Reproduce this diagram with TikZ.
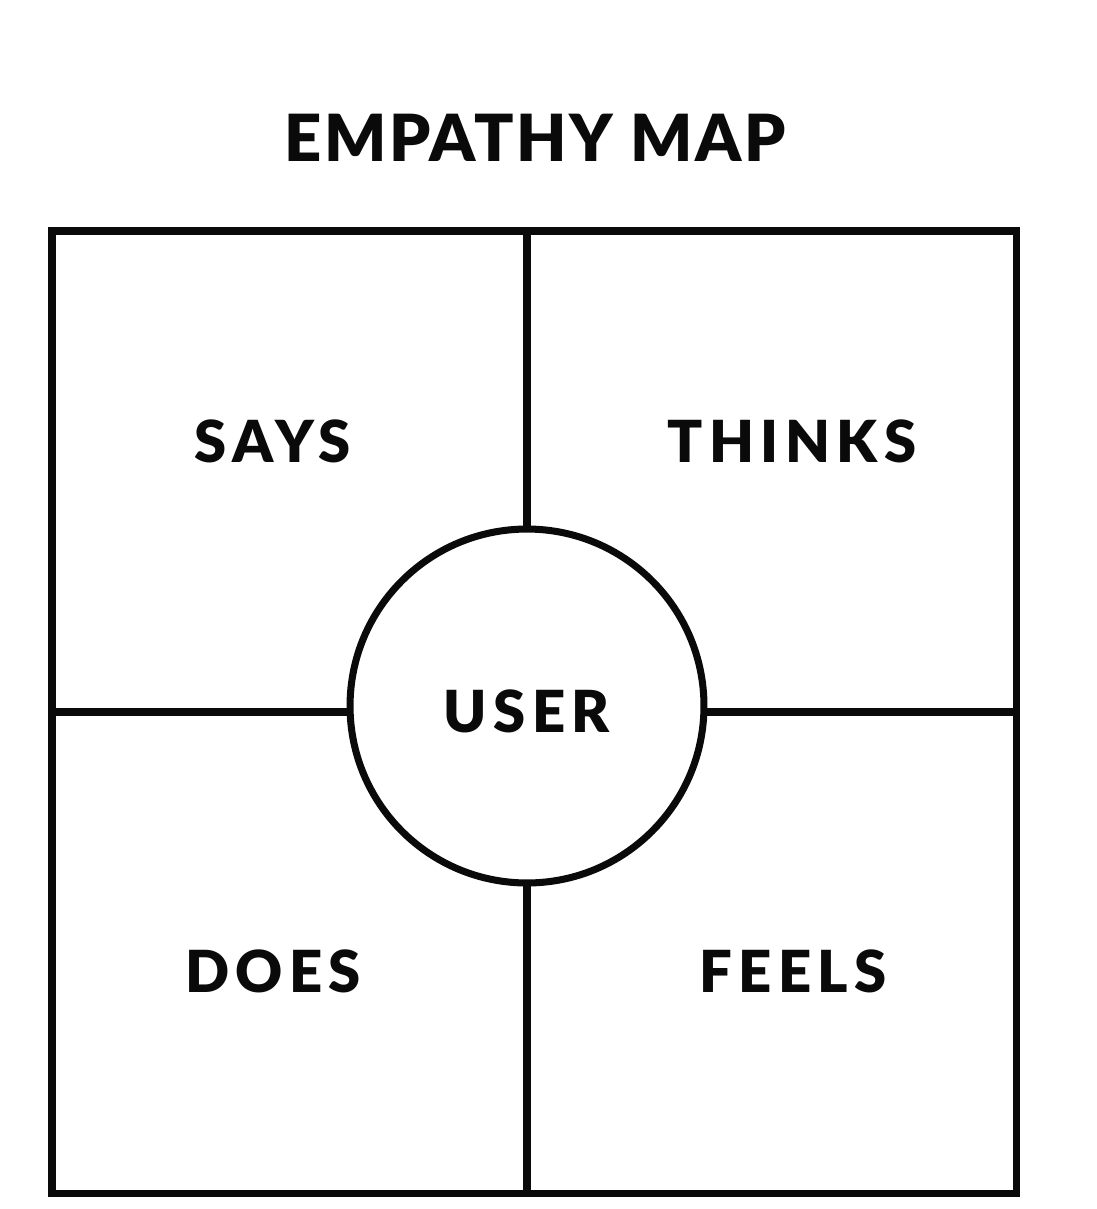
\documentclass[tikz,border=0pt]{standalone}
\usepackage{fontspec}
\usepackage{tikz}
\usetikzlibrary{positioning}
\setsansfont{Lato}
\newfontfamily\mapfont[LetterSpace=11]{Lato Black}
\newfontfamily\headfont[LetterSpace=4]{Lato Black}
\definecolor{mapink}{RGB}{10,10,10}
\tikzset{
  frame/.style={line width=4pt, color=mapink},
  titletext/.style={font=\headfont\fontsize{37pt}{40pt}\selectfont, text=mapink, inner sep=0pt},
  quadtext/.style={font=\mapfont\fontsize{33pt}{36pt}\selectfont, text=mapink, inner sep=0pt},
  usercircle/.style={circle, draw=mapink, line width=4pt, fill=white, minimum size=7.08cm, inner sep=0pt,
    font=\mapfont\fontsize{33pt}{36pt}\selectfont, text=mapink}
}
\begin{document}
\begin{tikzpicture}[x=0.02cm, y=-0.02cm]
  \useasboundingbox (0,0) rectangle (1097,1209);
  \node[titletext] (title) at (535,138) {EMPATHY MAP};

  % Frame
  \coordinate (nw) at (52,231);
  \coordinate (se) at (1016,1193);
  \coordinate (ntop) at (527,231);
  \coordinate (nbot) at (527,1193);
  \coordinate (wmid) at (52,712);
  \coordinate (emid) at (1016,712);
  \draw[frame] (nw) rectangle (se);

  % Centre
  \node[usercircle] (user) at (527,706) {\raisebox{0pt}[1.04cm][0pt]{USER}};
  \draw[frame] (ntop) -- (user.north);
  \draw[frame] (user.south) -- (nbot);
  \draw[frame] (wmid) -- (wmid -| user.west);
  \draw[frame] (emid -| user.east) -- (emid);

  % Quadrants
  \node[quadtext] (says) at (273,441) {SAYS};
  \node[quadtext] (thinks) at (792,441) {THINKS};
  \node[quadtext] (does) at (273,971) {DOES};
  \node[quadtext] (feels) at (793,971) {FEELS};
\end{tikzpicture}
\end{document}
